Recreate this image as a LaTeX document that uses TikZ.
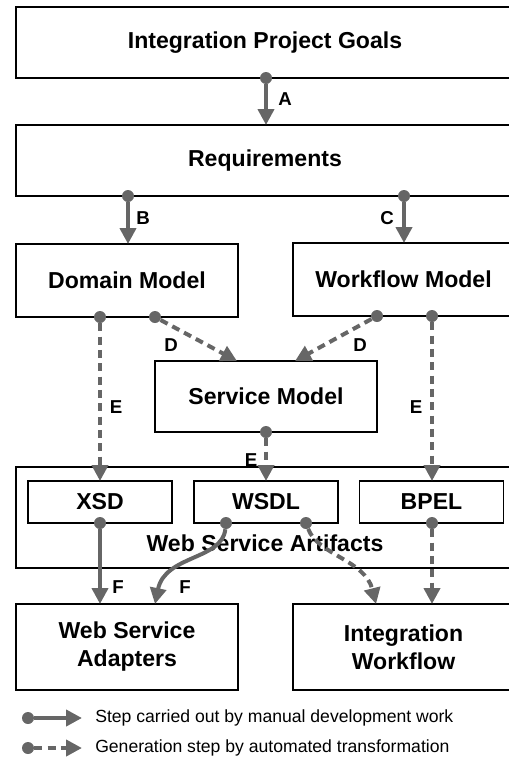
\documentclass[tikz,border=0pt]{standalone}
\usepackage{fontspec}
\setmainfont{Liberation Sans}
\usetikzlibrary{arrows.meta}

\definecolor{flowgray}{HTML}{666666}

\tikzset{
  box/.style={draw, line width=0.9pt, inner sep=0pt, outer sep=0pt, align=center,
    font=\bfseries\fontsize{17.3}{21}\selectfont},
  boxtxt/.style={inner sep=0pt, font=\bfseries\fontsize{17.3}{21}\selectfont},
  steplbl/.style={inner sep=0pt, font=\bfseries\fontsize{14}{16}\selectfont},
  legendtxt/.style={inner sep=0pt, anchor=west, font=\fontsize{13.2}{15}\selectfont},
  dotnode/.style={circle, fill=flowgray, inner sep=0pt, minimum size=9pt},
  manual/.style={draw=flowgray, line width=3pt, -{Triangle[length=12pt,width=12pt]}},
  generated/.style={manual, dash pattern=on 6pt off 4pt},
}

\begin{document}
\begin{tikzpicture}[x=0.75pt, y=-0.75pt]
  \useasboundingbox (0,0) rectangle (508,757);

  % boxes
  \node[box, minimum width=373.5pt, minimum height=53.25pt] (goals) at (265,42.5) {Integration Project Goals};
  \node[box, minimum width=373.5pt, minimum height=53.25pt] (req) at (265,160.5) {Requirements};
  \node[box, minimum width=166.5pt, minimum height=54.75pt] (domain) at (127,280.5) {Domain Model};
  \node[box, minimum width=165.75pt, minimum height=54.75pt] (wfmodel) at (403.5,279.5) {Workflow Model};
  \node[box, minimum width=166.5pt, minimum height=53.25pt] (service) at (266,396.5) {Service Model};
  \node[box, minimum width=373.5pt, minimum height=75.75pt] (artifacts) at (265,517.5) {};
  \node[boxtxt] (artlbl) at (265,543) {Web Service Artifacts};
  \node[box, minimum width=108pt, minimum height=31.5pt] (xsd) at (100,502) {XSD};
  \node[box, minimum width=108pt, minimum height=31.5pt] (wsdl) at (266,502) {WSDL};
  \node[box, minimum width=108pt, minimum height=31.5pt] (bpel) at (431.5,502) {BPEL};
  \node[box, minimum width=166.5pt, minimum height=64.5pt] (adapters) at (127,647) {Web Service\\Adapters};
  \node[box, minimum width=165.75pt, minimum height=64.5pt] (intwf) at (403.5,647) {Integration\\Workflow};

  % start dots
  \node[dotnode] (dA) at (266,78) {};
  \node[dotnode] (dB) at (128,196) {};
  \node[dotnode] (dC) at (404,196) {};
  \node[dotnode] (dE1) at (100,317) {};
  \node[dotnode] (dD1) at (155,317) {};
  \node[dotnode] (dD2) at (377,316) {};
  \node[dotnode] (dE3) at (432,316) {};
  \node[dotnode] (dE2) at (266,432) {};
  \node[dotnode] (dF1) at (100,523) {};
  \node[dotnode] (dF2) at (226,523) {};
  \node[dotnode] (dG) at (306,523) {};
  \node[dotnode] (dH) at (432,523) {};

  % steps
  \draw[manual] (dA) -- (dA |- req.north);
  \draw[manual] (dB) -- (dB |- domain.north);
  \draw[manual] (dC) -- (dC |- wfmodel.north);
  \draw[generated] (dD1) -- ([xshift=-21.75pt]service.north);
  \draw[generated] (dD2) -- ([xshift=21.75pt]service.north);
  \draw[generated] (dE1) -- (dE1 |- xsd.north);
  \draw[generated] (dE2) -- (dE2 |- wsdl.north);
  \draw[generated] (dE3) -- (dE3 |- bpel.north);
  \draw[manual] (dF1) -- (dF1 |- adapters.north);
  \draw[manual] (dF2) .. controls (222,560) and (165,555) .. ([xshift=21pt]adapters.north);
  \draw[generated] (dG) .. controls (318,555) and (365,560) .. ([xshift=-20.6pt]intwf.north);
  \draw[generated] (dH) -- (dH |- intwf.north);

  % step labels
  \node[steplbl] (lA) at (285,99) {A};
  \node[steplbl] (lB) at (143,218) {B};
  \node[steplbl] (lC) at (387,218) {C};
  \node[steplbl] (lD1) at (171,345) {D};
  \node[steplbl] (lD2) at (360,345) {D};
  \node[steplbl] (lE1) at (116,407) {E};
  \node[steplbl] (lE2) at (251,460) {E};
  \node[steplbl] (lE3) at (416,407) {E};
  \node[steplbl] (lF1) at (118,587) {F};
  \node[steplbl] (lF2) at (185,587) {F};

  % legend
  \node[dotnode] (lgman) at (28,718) {};
  \coordinate (lgmanend) at (82,718);
  \draw[manual] (lgman) -- (lgmanend);
  \node[legendtxt] (lgmantxt) at (95,718) {Step carried out by manual development work};
  \node[dotnode] (lggen) at (28,748) {};
  \coordinate (lggenend) at (82,748);
  \draw[generated] (lggen) -- (lggenend);
  \node[legendtxt] (lggentxt) at (95,748) {Generation step by automated transformation};
\end{tikzpicture}
\end{document}
